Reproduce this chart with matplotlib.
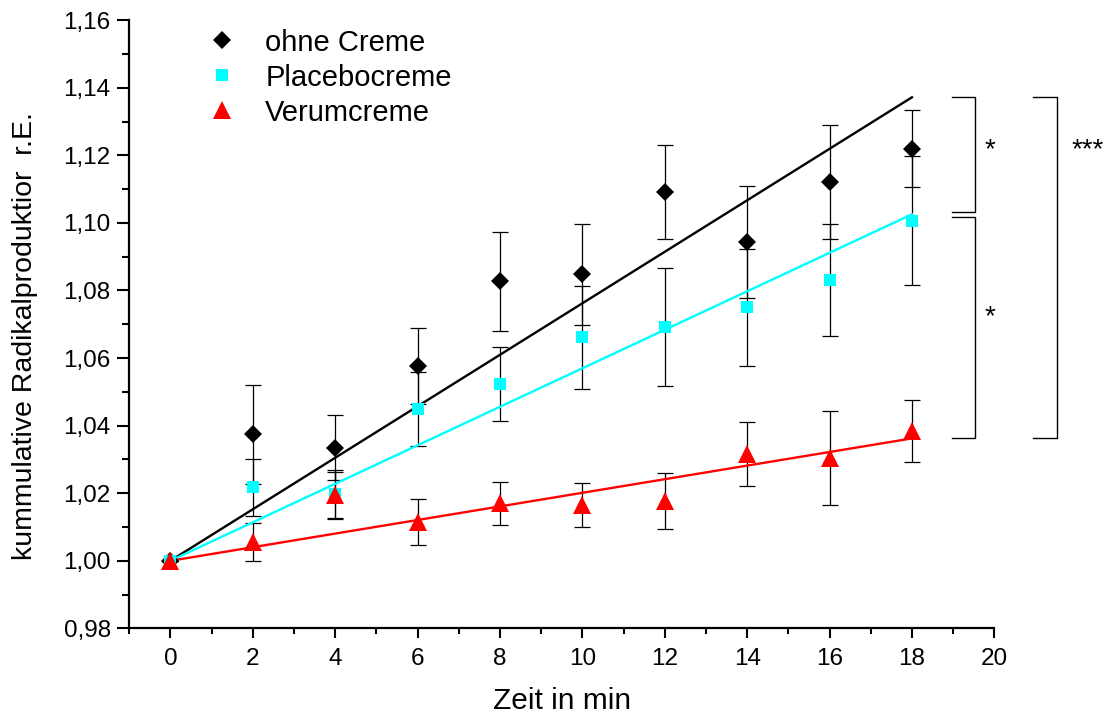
import matplotlib
import numpy as np

matplotlib.use("Agg")
import matplotlib.pyplot as plt  # noqa: E402
from matplotlib.ticker import MultipleLocator, FuncFormatter  # noqa: E402

plt.rcParams["font.family"] = ["Liberation Sans", "DejaVu Sans"]

# values
time_min = [0, 2, 4, 6, 8, 10, 12, 14, 16, 18]
ohne = [1.000, 1.0374, 1.0335, 1.0577, 1.0827, 1.0848, 1.1092, 1.0944, 1.1122, 1.1220]
ohne_err = [0, 0.0147, 0.0096, 0.0113, 0.0146, 0.0150, 0.0139, 0.0165, 0.0169, 0.0113]
placebo = [1.000, 1.0217, 1.0198, 1.0450, 1.0523, 1.0661, 1.0692, 1.0750, 1.0831, 1.1007]
placebo_err = [0, 0.0083, 0.0070, 0.0110, 0.0110, 0.0153, 0.0174, 0.0172, 0.0167, 0.0190]
verum = [1.000, 1.0056, 1.0194, 1.0115, 1.0170, 1.0165, 1.0178, 1.0315, 1.0305, 1.0385]
verum_err = [0, 0.0057, 0.0070, 0.0067, 0.0064, 0.0064, 0.0083, 0.0095, 0.0139, 0.0092]

labels = ["ohne Creme", "Placebocreme", "Verumcreme"]
colors = ["black", "#00FFFF", "#FF0000"]
markers = ["D", "s", "^"]
msizes = [9.6, 9.0, 13.0]


def fit_origin(x, y):
    # linear regression forced through (0, 1)
    x = np.asarray(x, dtype=float)
    d = np.asarray(y, dtype=float) - 1.0
    return float(np.sum(x * d) / np.sum(x * x))


fig = plt.figure(figsize=(11.16, 7.18), dpi=100)
ax = fig.add_axes([0.1157, 0.1248, 0.891 - 0.1157, 0.9719 - 0.1248])

x = np.asarray(time_min, dtype=float)
series = [(ohne, ohne_err), (placebo, placebo_err), (verum, verum_err)]
ends = []
for (vals, err), lab, col, mk, ms in zip(series, labels, colors, markers, msizes):
    ax.errorbar(x, vals, yerr=err, fmt="none", ecolor="black", elinewidth=0.9,
                capsize=6, capthick=0.9, zorder=1)
    k = fit_origin(x, vals)
    xf = np.array([0.0, x[-1]])
    ax.plot(xf, 1.0 + k * xf, color=col, lw=1.7, zorder=2)
    ends.append(1.0 + k * x[-1])
    ax.plot(x, vals, linestyle="none", marker=mk, ms=ms, color=col,
            markeredgewidth=0, label=lab, zorder=3)

# significance brackets right of the data
gap = 0.0007
star_y = 1.1215
brackets = [
    (18.97, 19.54, ends[0], ends[1] + gap, "*", 19.9, star_y),
    (18.97, 19.54, ends[1] - gap, ends[2], "*", 19.9, 1.0722),
    (20.95, 21.51, ends[0], ends[2], "***", 22.27, star_y),
]
for x0, x1, ytop, ybot, star, xs, ys in brackets:
    ax.plot([x0, x1, x1, x0], [ytop, ytop, ybot, ybot], color="black", lw=1.0,
            clip_on=False)
    ax.text(xs, ys, star, ha="center", va="center", fontsize=20)

ax.set_xlim(-1, 20)
ax.set_ylim(0.98, 1.16)
ax.xaxis.set_major_locator(MultipleLocator(2))
ax.xaxis.set_minor_locator(MultipleLocator(1))
ax.yaxis.set_major_locator(MultipleLocator(0.02))
ax.yaxis.set_minor_locator(MultipleLocator(0.01))
ax.yaxis.set_major_formatter(FuncFormatter(lambda v, p: f"{v:.2f}".replace(".", ",")))

for side in ["top", "right"]:
    ax.spines[side].set_visible(False)
for side in ["left", "bottom"]:
    ax.spines[side].set_linewidth(1.6)

ax.tick_params(axis="both", which="both", direction="out", width=1.5, labelsize=17.5)
ax.tick_params(axis="y", which="major", length=8.8, pad=4.5)
ax.tick_params(axis="y", which="minor", length=4.8)
ax.tick_params(axis="x", which="major", length=7.3, pad=7)
ax.tick_params(axis="x", which="minor", length=4.5)

ax.set_xlabel("Zeit in min", fontsize=21.5, labelpad=12)
fig.text(0.022, 1 - 336 / 718, "kummulative Radikalproduktior  r.E.", rotation=90,
         ha="center", va="center", fontsize=20.5)

ax.legend(loc="upper left", bbox_to_anchor=(0.09, 0.986), frameon=False, fontsize=21,
          numpoints=1, handlelength=1.0, handletextpad=1.0, labelspacing=0.24,
          borderpad=0, borderaxespad=0)

fig.savefig("out.png", dpi=100)
plt.close(fig)
